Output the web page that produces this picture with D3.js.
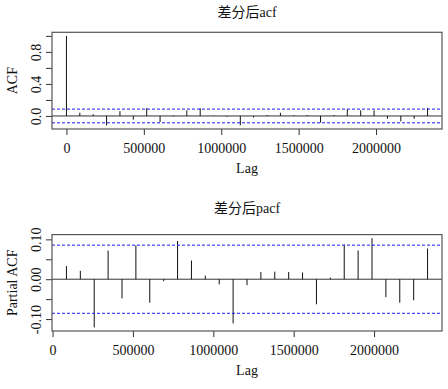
<!DOCTYPE html>
<html>
<head>
<meta charset="utf-8">
<script src="https://cdn.jsdelivr.net/npm/d3@7"></script>
<style>
  body { margin: 0; background: #fff; }
  text { font-family: "Liberation Serif", "Noto Sans CJK SC", serif; fill: #111; }
</style>
</head>
<body>
<div id="chart_container"></div>
<script>
// lags are in seconds, one day apart
var acfLags = [0, 86400, 172800, 259200, 345600, 432000, 518400, 604800, 691200, 777600,
	864000, 950400, 1036800, 1123200, 1209600, 1296000, 1382400, 1468800, 1555200, 1641600,
	1728000, 1814400, 1900800, 1987200, 2073600, 2160000, 2246400, 2332800];
var acfValues = [1.0, 0.04, 0.022, -0.118, 0.06, -0.046, 0.098, -0.075, -0.008, 0.07,
	0.097, 0.004, -0.01, -0.117, -0.02, 0.012, 0.04, 0.008, 0.012, -0.083,
	0.01, 0.085, 0.07, 0.07, -0.035, -0.068, -0.035, 0.1];

var pacfLags = [86400, 172800, 259200, 345600, 432000, 518400, 604800, 691200, 777600,
	864000, 950400, 1036800, 1123200, 1209600, 1296000, 1382400, 1468800, 1555200, 1641600,
	1728000, 1814400, 1900800, 1987200, 2073600, 2160000, 2246400, 2332800];
var pacfValues = [0.033, 0.021, -0.121, 0.072, -0.048, 0.085, -0.059, -0.005, 0.096,
	0.047, 0.009, -0.013, -0.111, -0.015, 0.018, 0.019, 0.018, 0.017, -0.063,
	0.004, 0.087, 0.072, 0.103, -0.045, -0.059, -0.053, 0.077];

// confidence bound (1.96/sqrt(n))
var clim = 0.0855;

var xTicks = [0, 500000, 1000000, 1500000, 2000000];
var acfTicks = [0, 0.2, 0.4, 0.6, 0.8, 1.0];
var acfTickLabels = ["0.0", "", "0.4", "", "0.8", ""];
var pacfTicks = [-0.1, -0.05, 0, 0.05, 0.1];
var pacfTickLabels = ["-0.10", "", "0.00", "", "0.10"];

var width = 448, height = 389;
var plotLeft = 52, plotRight = 442;

var svg = d3.select("#chart_container").append("svg")
	.attr("width", width)
	.attr("height", height)
	.style("background", "#fff");

// R style range: data range padded by 4% each side
function pad(ext) {
	var d = (ext[1] - ext[0]) * 0.04;
	return [ext[0] - d, ext[1] + d];
}

function makePanel(p) {
	var x = d3.scaleLinear().domain(pad(d3.extent(p.lags))).range([plotLeft, plotRight]);
	var yExt = d3.extent(p.values.concat([-clim, clim]));
	var y = d3.scaleLinear().domain(pad(yExt)).range([p.bottom, p.top]);

	var g = svg.append("g");

	// title
	g.append("text")
		.attr("x", (plotLeft + plotRight) / 2)
		.attr("y", p.titleY)
		.style("text-anchor", "middle")
		.style("font-size", "14px")
		.text(p.title);

	// axes
	var xAxis = d3.axisBottom(x).tickValues(xTicks).tickSize(6).tickFormat(d3.format("d"));
	var xg = g.append("g")
		.attr("transform", "translate(0," + p.bottom + ")")
		.call(xAxis);
	xg.select(".domain").remove();
	xg.selectAll(".tick line").attr("stroke", "#333");
	xg.selectAll(".tick text")
		.attr("y", 24).attr("dy", 0)
		.style("font-size", "14px")
		.style("font-family", "Liberation Serif")
		.attr("fill", "#111");

	var yAxis = d3.axisLeft(y).tickValues(p.yTicks).tickSize(6)
		.tickFormat(function(d, i) { return p.yLabels[i]; });
	var yg = g.append("g")
		.attr("transform", "translate(" + plotLeft + ",0)")
		.call(yAxis);
	yg.select(".domain").remove();
	yg.selectAll(".tick line").attr("stroke", "#333");
	yg.selectAll(".tick text")
		.attr("x", 0).attr("y", -11).attr("dy", 0)
		.attr("transform", "rotate(-90)")
		.style("text-anchor", "middle")
		.style("font-size", "14px")
		.style("font-family", "Liberation Serif")
		.attr("fill", "#111");

	// axis labels
	g.append("text")
		.attr("x", (plotLeft + plotRight) / 2)
		.attr("y", p.bottom + 44)
		.style("text-anchor", "middle")
		.style("font-size", "14px")
		.text("Lag");

	g.append("text")
		.attr("transform", "translate(17," + (p.top + p.bottom) / 2 + ") rotate(-90)")
		.style("text-anchor", "middle")
		.style("font-size", "14px")
		.text(p.ylabel);

	// zero line
	g.append("line")
		.attr("x1", plotLeft).attr("x2", plotRight)
		.attr("y1", y(0)).attr("y2", y(0))
		.attr("stroke", "#333").attr("stroke-width", 1);

	// spikes
	g.selectAll(".spike")
		.data(p.lags).enter()
		.append("line")
			.attr("class", "spike")
			.attr("x1", function(d) { return x(d); })
			.attr("x2", function(d) { return x(d); })
			.attr("y1", y(0))
			.attr("y2", function(d, i) { return y(p.values[i]); })
			.attr("stroke", "#111")
			.attr("stroke-width", 1);

	// confidence lines
	[clim, -clim].forEach(function(c) {
		g.append("line")
			.attr("x1", plotLeft).attr("x2", plotRight)
			.attr("y1", y(c)).attr("y2", y(c))
			.attr("stroke", "#1a1aff")
			.attr("stroke-width", 1)
			.attr("stroke-dasharray", "3,2");
	});

	// box
	g.append("rect")
		.attr("x", plotLeft).attr("y", p.top)
		.attr("width", plotRight - plotLeft)
		.attr("height", p.bottom - p.top)
		.attr("fill", "none")
		.attr("stroke", "#555")
		.attr("stroke-width", 1.2);
}

makePanel({
	lags: acfLags, values: acfValues,
	top: 32.3, bottom: 129, titleY: 16.5,
	title: "差分后acf", ylabel: "ACF",
	yTicks: acfTicks, yLabels: acfTickLabels
});

makePanel({
	lags: pacfLags, values: pacfValues,
	top: 234.6, bottom: 331, titleY: 213,
	title: "差分后pacf", ylabel: "Partial ACF",
	yTicks: pacfTicks, yLabels: pacfTickLabels
});
</script>
</body>
</html>
